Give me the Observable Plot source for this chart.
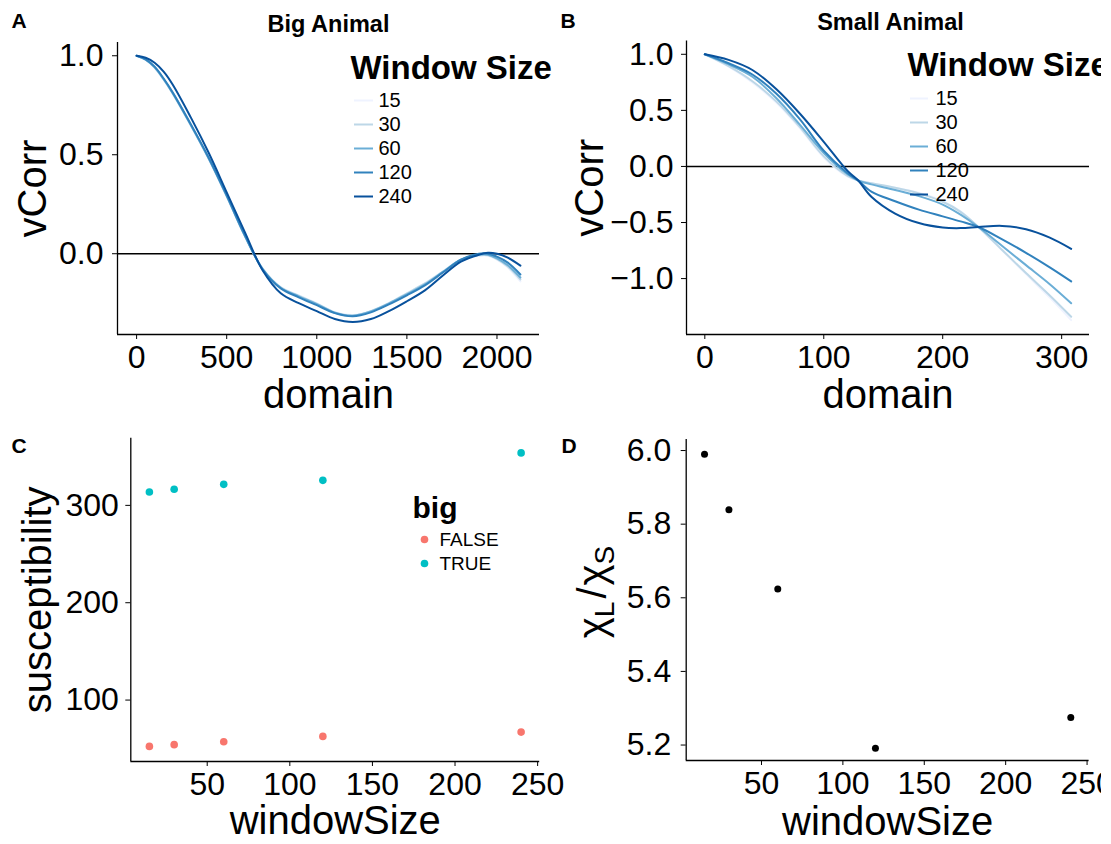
<!DOCTYPE html>
<html>
<head>
<meta charset="utf-8">
<script src="https://cdn.jsdelivr.net/npm/d3@7"></script>
<script src="https://cdn.jsdelivr.net/npm/@observablehq/plot@0.6"></script>
<style>
  html, body { margin: 0; padding: 0; background: #fff; }
  #figure { position: relative; width: 1101px; height: 844px; overflow: hidden; }
  .cell { position: absolute; }
  .cell svg { display: block; overflow: visible; max-width: none; background: transparent; }
</style>
</head>
<body>
<div id="figure"></div>
<script>
// ---- shared ----
const windowSizes = [15, 30, 60, 120, 240];
const windowColors = ["#eff3ff", "#bdd7e7", "#6baed6", "#3182bd", "#08519c"];

// ---- panel A: big animal, velocity correlation vs domain ----
const bigDomain = [0, 50, 100, 150, 200, 300, 400, 500, 600, 700, 800, 900, 1000, 1100, 1200, 1300, 1400, 1500, 1600, 1700, 1800, 1900, 1950, 2000, 2060, 2130];
const bigCorr15  = [1.0, 0.98, 0.94, 0.88, 0.81, 0.65, 0.48, 0.29, 0.09, -0.075, -0.17, -0.21, -0.25, -0.295, -0.31, -0.29, -0.25, -0.20, -0.15, -0.09, -0.03, -0.01, -0.01, -0.03, -0.07, -0.14];
const bigCorr30  = [1.0, 0.98, 0.94, 0.88, 0.81, 0.65, 0.48, 0.29, 0.09, -0.076, -0.17, -0.212, -0.252, -0.297, -0.312, -0.29, -0.25, -0.20, -0.15, -0.09, -0.03, -0.008, -0.008, -0.027, -0.065, -0.13];
const bigCorr60  = [1.0, 0.981, 0.942, 0.882, 0.812, 0.652, 0.482, 0.292, 0.092, -0.078, -0.172, -0.215, -0.255, -0.298, -0.313, -0.292, -0.252, -0.205, -0.155, -0.092, -0.03, -0.005, -0.005, -0.023, -0.058, -0.12];
const bigCorr120 = [1.0, 0.982, 0.945, 0.885, 0.815, 0.655, 0.485, 0.295, 0.095, -0.08, -0.175, -0.22, -0.26, -0.30, -0.316, -0.296, -0.256, -0.21, -0.16, -0.095, -0.03, 0.0, 0.0, -0.015, -0.045, -0.105];
const bigCorr240 = [1.0, 0.99, 0.965, 0.92, 0.855, 0.69, 0.51, 0.31, 0.11, -0.085, -0.20, -0.25, -0.29, -0.33, -0.345, -0.33, -0.29, -0.24, -0.185, -0.11, -0.04, -0.005, 0.005, 0.0, -0.02, -0.06];
const bigXTicks = [0, 500, 1000, 1500, 2000];
const bigYTicks = [0, 0.5, 1.0];

// ---- panel B: small animal, velocity correlation vs domain ----
const smallDomain = [0, 20, 40, 60, 80, 100, 120, 129, 140, 160, 180, 200, 215, 230, 250, 270, 290, 308];
const smallCorr15  = [1.0, 0.89, 0.75, 0.57, 0.34, 0.08, -0.09, -0.125, -0.15, -0.19, -0.235, -0.31, -0.40, -0.54, -0.75, -0.96, -1.17, -1.37];
const smallCorr30  = [1.0, 0.895, 0.76, 0.58, 0.35, 0.09, -0.085, -0.125, -0.15, -0.19, -0.24, -0.315, -0.405, -0.54, -0.745, -0.95, -1.15, -1.34];
const smallCorr60  = [1.0, 0.91, 0.80, 0.61, 0.37, 0.12, -0.07, -0.125, -0.16, -0.21, -0.265, -0.34, -0.43, -0.54, -0.71, -0.88, -1.05, -1.22];
const smallCorr120 = [1.0, 0.92, 0.82, 0.65, 0.42, 0.14, -0.06, -0.125, -0.225, -0.31, -0.385, -0.445, -0.49, -0.54, -0.65, -0.77, -0.90, -1.025];
const smallCorr240 = [1.0, 0.95, 0.86, 0.69, 0.47, 0.22, -0.04, -0.125, -0.27, -0.42, -0.505, -0.545, -0.55, -0.54, -0.53, -0.56, -0.635, -0.735];
const smallXTicks = [0, 100, 200, 300];
const smallYTicks = [-1.0, -0.5, 0, 0.5, 1.0];

// ---- panel C: susceptibility vs window size ----
const bigGroups = ["FALSE", "TRUE"];
const bigGroupColors = ["#F8766D", "#00BFC4"];
const susceptibilitySmall = [52.4, 54.2, 57.2, 62.7, 67.1];
const susceptibilityBig = [313.7, 316.5, 321.6, 325.7, 353.9];
const suscYTicks = [100, 200, 300];

// ---- panel D: ratio of susceptibilities vs window size ----
const susceptibilityRatio = [5.99, 5.839, 5.624, 5.191, 5.275];
const ratioYTicks = [5.2, 5.4, 5.6, 5.8, 6.0];
const windowXTicks = [50, 100, 150, 200, 250];

// ---- helpers ----
const FONT = "'Liberation Sans', Arial, Helvetica, sans-serif";
const fig = document.getElementById("figure");
const baseStyle = {fontFamily: FONT, background: "transparent", overflow: "visible", maxWidth: "none", color: "black"};
const fmt1 = d => d.toFixed(1).replace("-", "\u2212");
const fmtInt = d => String(d);
const ident = d => d;

function place(node, left, top) {
  const div = document.createElement("div");
  div.className = "cell";
  div.style.left = left + "px";
  div.style.top = top + "px";
  div.appendChild(node);
  fig.appendChild(div);
  return node;
}

function longTable(xs, series) {
  return series.flatMap(([w, ys]) => xs.map((x, i) => ({domain: x, vCorr: ys[i], window: w})));
}

function axes({xDomain, yDomain, xTicks, yTicks, xFormat, yFormat, yPad}) {
  return [
    Plot.ruleX([xDomain[0]], {stroke: "black", strokeWidth: 1.3}),
    Plot.ruleY([yDomain[0]], {stroke: "black", strokeWidth: 1.3}),
    Plot.axisX({ticks: xTicks, tickFormat: xFormat, tickSize: 5, tickPadding: 6, fontSize: 32, label: null}),
    Plot.axisY({ticks: yTicks, tickFormat: yFormat, tickSize: 5, tickPadding: yPad, fontSize: 32, label: null})
  ];
}

function titleMarks({tag, tagDx, tagDy, title, titleDx, titleDy, xLabel, xLabelDy, yLabel, yLabelDx, yLabelDy = 0}) {
  const marks = [
    Plot.text([tag], {text: ident, frameAnchor: "top-left", textAnchor: "start", lineAnchor: "bottom", dx: tagDx, dy: tagDy, fontSize: 21, fontWeight: "bold"}),
    Plot.text([xLabel], {text: ident, frameAnchor: "bottom", textAnchor: "middle", lineAnchor: "bottom", dy: xLabelDy, fontSize: 40}),
    Plot.text([yLabel], {text: ident, frameAnchor: "left", textAnchor: "middle", lineAnchor: "bottom", rotate: -90, dx: yLabelDx, dy: yLabelDy, fontSize: 40})
  ];
  if (title) marks.push(Plot.text([title], {text: ident, frameAnchor: "top", textAnchor: "middle", lineAnchor: "bottom", dx: titleDx, dy: titleDy, fontSize: 23.5, fontWeight: "bold"}));
  return marks;
}

function windowLegend({left, top, titleDx, titleBaseline, x0, x1, labelDx, y0, y1}) {
  return place(Plot.plot({
    width: 230, height: 165, margin: 0,
    style: baseStyle,
    x: {domain: [0, 1], range: [x0, x1], axis: null},
    y: {type: "point", domain: windowSizes, range: [y0, y1], padding: 0, axis: null},
    color: {type: "ordinal", domain: windowSizes, range: windowColors},
    marks: [
      Plot.text(["Window Size"], {text: ident, frameAnchor: "top-left", textAnchor: "start", lineAnchor: "bottom", dx: titleDx, dy: titleBaseline, fontSize: 33, fontWeight: "bold"}),
      Plot.ruleY(windowSizes, {y: ident, x1: 0, x2: 1, stroke: ident, strokeWidth: 2}),
      Plot.text(windowSizes, {y: ident, x: 1, dx: labelDx, text: d => String(d), textAnchor: "start", fontSize: 20})
    ]
  }), left, top);
}

// ---- panel A ----
const bigRows = longTable(bigDomain, [[15, bigCorr15], [30, bigCorr30], [60, bigCorr60], [120, bigCorr120], [240, bigCorr240]]);
const aX = [-106, 2236], aY = [-0.408, 1.067];
place(Plot.plot({
  width: 555, height: 420,
  marginLeft: 117, marginRight: 16, marginTop: 42, marginBottom: 86,
  style: baseStyle,
  x: {domain: aX},
  y: {domain: aY},
  color: {type: "ordinal", domain: windowSizes, range: windowColors},
  marks: [
    Plot.ruleY([0], {stroke: "black", strokeWidth: 1.4}),
    Plot.line(bigRows, {x: "domain", y: "vCorr", z: "window", stroke: "window", strokeWidth: 2, curve: "catmull-rom"}),
    ...axes({xDomain: aX, yDomain: aY, xTicks: bigXTicks, yTicks: bigYTicks, xFormat: fmtInt, yFormat: fmt1, yPad: 9}),
    ...titleMarks({tag: "A", tagDx: -106, tagDy: -15, title: "Big Animal", titleDx: 0, titleDy: -11,
      xLabel: "domain", xLabelDy: 73, yLabel: "vCorr", yLabelDx: -72})
  ]
}), 0, 0);

// ---- panel B ----
const smallRows = longTable(smallDomain, [[15, smallCorr15], [30, smallCorr30], [60, smallCorr60], [120, smallCorr120], [240, smallCorr240]]);
const bX = [-15.4, 323.4], bY = [-1.4985, 1.1185];
place(Plot.plot({
  width: 546, height: 420,
  marginLeft: 131, marginRight: 12, marginTop: 40.5, marginBottom: 86,
  style: baseStyle,
  x: {domain: bX},
  y: {domain: bY},
  color: {type: "ordinal", domain: windowSizes, range: windowColors},
  marks: [
    Plot.ruleY([0], {stroke: "black", strokeWidth: 1.4}),
    Plot.line(smallRows, {x: "domain", y: "vCorr", z: "window", stroke: "window", strokeWidth: 2, curve: "catmull-rom"}),
    ...axes({xDomain: bX, yDomain: bY, xTicks: smallXTicks, yTicks: smallYTicks, xFormat: fmtInt, yFormat: fmt1, yPad: 8}),
    ...titleMarks({tag: "B", tagDx: -126, tagDy: -13.5, title: "Small Animal", titleDx: 2.5, titleDy: -11.5,
      xLabel: "domain", xLabelDy: 73, yLabel: "vCorr", yLabelDx: -84})
  ]
}), 555, 0);

windowLegend({left: 350, top: 50, titleDx: 0, titleBaseline: 28, x0: 4, x1: 23, labelDx: 5, y0: 49, y1: 147});
windowLegend({left: 905, top: 50, titleDx: 2, titleBaseline: 25, x0: 5, x1: 23, labelDx: 7, y0: 47, y1: 145});

// ---- panel C ----
const suscRows = [
  ...windowSizes.map((w, i) => ({windowSize: w, susceptibility: susceptibilitySmall[i], big: "FALSE"})),
  ...windowSizes.map((w, i) => ({windowSize: w, susceptibility: susceptibilityBig[i], big: "TRUE"}))
];
const cX = [3.75, 251.25], cY = [36.9, 369];
place(Plot.plot({
  width: 555, height: 424,
  marginLeft: 130.3, marginRight: 15.8, marginTop: 17.7, marginBottom: 83,
  style: baseStyle,
  x: {domain: cX},
  y: {domain: cY},
  color: {type: "ordinal", domain: bigGroups, range: bigGroupColors},
  marks: [
    Plot.dot(suscRows, {x: "windowSize", y: "susceptibility", fill: "big", r: 3.8}),
    ...axes({xDomain: cX, yDomain: cY, xTicks: windowXTicks, yTicks: suscYTicks, xFormat: fmtInt, yFormat: fmtInt, yPad: 7}),
    ...titleMarks({tag: "C", tagDx: -119.3, tagDy: 14.3, xLabel: "windowSize", xLabelDy: 72.5,
      yLabel: "susceptibility", yLabelDx: -80.3})
  ]
}), 0, 420);

// legend for panel C
place(Plot.plot({
  width: 130, height: 90, margin: 0,
  style: baseStyle,
  x: {domain: [0, 1], range: [19, 33], axis: null},
  y: {type: "point", domain: bigGroups, range: [49, 73.5], padding: 0, axis: null},
  color: {type: "ordinal", domain: bigGroups, range: bigGroupColors},
  marks: [
    Plot.text(["big"], {text: ident, frameAnchor: "top-left", textAnchor: "start", lineAnchor: "bottom", dx: 7, dy: 27, fontSize: 30, fontWeight: "bold"}),
    Plot.dot(bigGroups, {x: 0, y: ident, fill: ident, r: 3.8}),
    Plot.text(bigGroups, {x: 1, y: ident, text: ident, textAnchor: "start", dx: 1, fontSize: 19})
  ]
}), 405, 490);

// ---- panel D ----
const ratioRows = windowSizes.map((w, i) => ({windowSize: w, ratio: susceptibilityRatio[i]}));
const ratioLabel = "\u03C7L/\u03C7S";
const dX = [3.75, 251.25], dY = [5.158, 6.03];
const plotD = place(Plot.plot({
  width: 546, height: 424,
  marginLeft: 130.7, marginRight: 12.4, marginTop: 19, marginBottom: 84,
  style: baseStyle,
  x: {domain: dX},
  y: {domain: dY},
  marks: [
    Plot.dot(ratioRows, {x: "windowSize", y: "ratio", fill: "black", r: 3.5}),
    ...axes({xDomain: dX, yDomain: dY, xTicks: windowXTicks, yTicks: ratioYTicks, xFormat: fmtInt, yFormat: fmt1, yPad: 10}),
    ...titleMarks({tag: "D", tagDx: -124.7, tagDy: 13, xLabel: "windowSize", xLabelDy: 74.5,
      yLabel: ratioLabel, yLabelDx: -80.7, yLabelDy: -8})
  ]
}), 555, 420);

// typeset the ratio label with subscripts: chi_L / chi_S
d3.select(plotD).selectAll("text")
  .filter(function () { return this.textContent === ratioLabel; })
  .each(function () {
    const t = d3.select(this);
    t.text(null);
    t.append("tspan").text("\u03C7");
    t.append("tspan").attr("font-size", 28).attr("dy", 8).text("L");
    t.append("tspan").attr("dy", -8).attr("dx", 3).text("/");
    t.append("tspan").attr("dx", 2).text("\u03C7");
    t.append("tspan").attr("font-size", 28).attr("dy", 8).text("S");
  });
</script>
</body>
</html>
